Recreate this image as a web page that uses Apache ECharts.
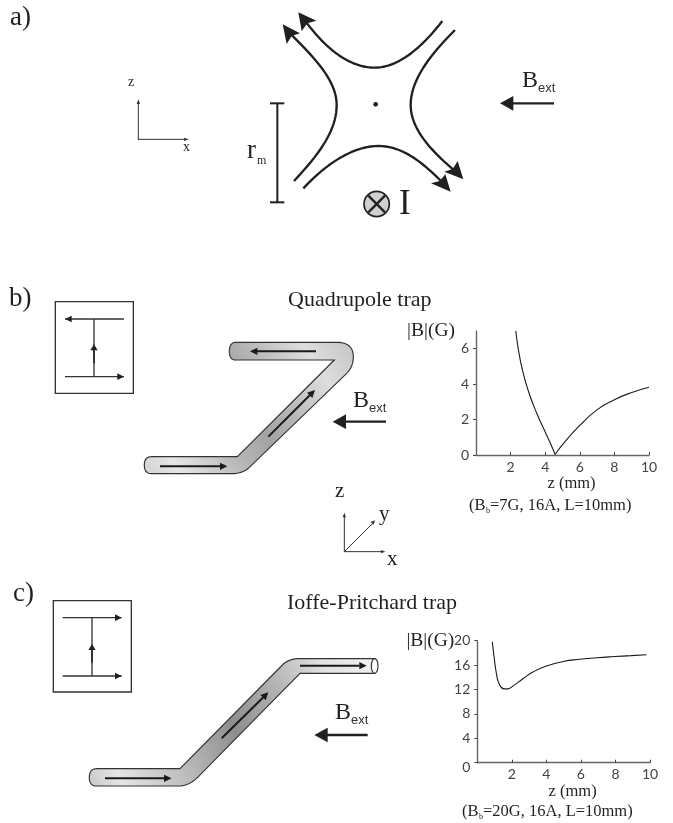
<!DOCTYPE html>
<html><head><meta charset="utf-8">
<style>html,body{margin:0;padding:0;background:#fff}#c{width:673px;height:823px}</style>
<script src="https://cdn.jsdelivr.net/npm/echarts@6/dist/echarts.min.js"></script>
</head><body><div id="c"></div>
<script>
// Data
const quadLeftZ = [2.3,2.45,2.68,3.03,3.51,4.0,4.3,4.57];
const quadLeftB = [7.0,5.95,4.82,3.6,2.36,1.3,0.66,0.03];
const quadRightZ = [4.57,5.06,5.97,6.99,8.0,8.92,10];
const quadRightB = [0.03,0.66,1.64,2.55,3.12,3.5,3.82];
const ipZ = [0.87,0.97,1.12,1.27,1.54,1.74,2.08,2.66,3.24,4.0,4.98,5.95,6.9,7.95,8.9,9.8];
const ipB = [19.8,17.4,14.4,12.9,12.1,12.1,12.6,13.8,14.9,15.85,16.6,16.95,17.2,17.4,17.55,17.7];
const xTicks = [2,4,6,8,10];
const quadYTicks = [0,2,4,6];
const ipYTicks = [0,4,8,12,16,20];

const SERIF = '"Liberation Serif","Times New Roman",serif';
const SANS = 'Lato,"Open Sans",sans-serif';
const INK = '#231f20';

function pts(d){
  const t = d.trim().split(/[\s,]+/); let i=0, out=[], cur=[0,0];
  const n=()=>parseFloat(t[i++]);
  while(i<t.length){
    const c=t[i++];
    if(c==='M'||c==='L'){cur=[n(),n()];out.push(cur);}
    else if(c==='C'){const a=[n(),n()],b=[n(),n()],e=[n(),n()],s=cur;
      for(let k=1;k<=20;k++){const u=k/20,v=1-u;out.push([v*v*v*s[0]+3*v*v*u*a[0]+3*v*u*u*b[0]+u*u*u*e[0],v*v*v*s[1]+3*v*v*u*a[1]+3*v*u*u*b[1]+u*u*u*e[1]]);}
      cur=e;}
    else if(c==='Q'){const a=[n(),n()],e=[n(),n()],s=cur;
      for(let k=1;k<=14;k++){const u=k/14,v=1-u;out.push([v*v*s[0]+2*v*u*a[0]+u*u*e[0],v*v*s[1]+2*v*u*a[1]+u*u*e[1]]);}
      cur=e;}
  }
  return out;
}
const stroke=(d,w,col)=>({type:'polyline',silent:true,shape:{points:pts(d)},style:{stroke:col||INK,lineWidth:w,fill:null,lineCap:'butt',lineJoin:'round'}});
const poly=(p,col)=>({type:'polygon',silent:true,shape:{points:p},style:{fill:col||INK,stroke:null}});
const zoomGroup=(ox,oy,children)=>({type:'group',x:ox,y:oy,scaleX:1/3,scaleY:1/3,children});
const txt=(s,x,base,size,opt)=>{opt=opt||{};return {type:'text',silent:true,style:{text:s,x:x,y:base-0.32*size,font:(size)+'px '+(opt.font||SERIF),fill:opt.fill||INK,textAlign:opt.align||'left',textVerticalAlign:'middle',verticalAlign:'middle',align:opt.align||'left'}};};
const bext=(x,base)=>[txt('B',x,base,24),txt('ext',x+16,base+4.5,13,{font:'"Liberation Sans",Arial,sans-serif',fill:'#333'})];
const bigArrow=(x2,x1,tip,y)=>[stroke(`M ${x2},${y} L ${x1},${y}`,7),poly([[tip,y],[x1+5,y-22],[x1+5,y+22]])];
const smallH=(x1,x2,y,dir,w)=>{
  return [stroke(`M ${x1},${y} L ${x2},${y}`,w||4,'#333'), dir>0?poly([[x2,y],[x2-20,y-10],[x2-20,y+10]]):poly([[x1,y],[x1+20,y-10],[x1+20,y+10]])];
};
const inset=(x0,y0,x1,y1,vx,topY,botY,topDir,tipY,l,r)=>[
  {type:'rect',silent:true,shape:{x:x0,y:y0,width:x1-x0,height:y1-y0},style:{fill:null,stroke:'#333',lineWidth:4}},
  ...smallH(l,r,topY,topDir),...smallH(l,r,botY,1),
  stroke(`M ${vx},${topY} L ${vx},${botY}`,4,'#333'),
  stroke(`M ${vx},${botY-40} L ${vx},${tipY+10}`,6,'#333'),
  poly([[vx,tipY],[vx-11,tipY+18],[vx+11,tipY+18]])
];
const inner=(x1,y1,x2,y2,tx,ty,bx1,by1,bx2,by2)=>[stroke(`M ${x1},${y1} L ${x2},${y2}`,6,'#1a1a1a'),poly([[tx,ty],[bx1,by1],[bx2,by2]],'#1a1a1a')];
const grad=(stops)=>({type:'linear',x:0,y:1,x2:1,y2:0,colorStops:stops.map(s=>({offset:s[0],color:s[1]}))});

const partA = zoomGroup(120,0,[
  stroke('M 967,63 C 900,150 830,203 765,203 C 690,203 620,150 555,62',7),
  poly([[535,37],[589,62],[562,70],[545,94]]),
  stroke('M 522,543 C 600,460 650,390 650,315 C 650,240 580,170 510,100',7),
  poly([[488,73],[540,100],[515,108],[500,132]]),
  stroke('M 550,565 C 620,490 700,438 775,438 C 850,438 910,490 968,548',7),
  poly([[992,575],[976,523],[959,543],[933,550]]),
  stroke('M 1005,90 C 930,165 872,240 872,315 C 872,385 930,450 1005,513',7),
  poly([[1030,538],[1013,483],[998,507],[973,515]]),
  {type:'circle',silent:true,shape:{cx:767,cy:313,r:7},style:{fill:INK}},
  stroke('M 472,310 L 472,607',6), stroke('M 450,310 L 493,310',6), stroke('M 450,607 L 493,607',6),
  {type:'circle',silent:true,shape:{cx:770,cy:612,r:38},style:{fill:'#cfcfcf',stroke:INK,lineWidth:5}},
  stroke('M 745,587 L 795,637',7), stroke('M 795,587 L 745,637',7),
  ...bigArrow(1302,1175,1140,310),
  stroke('M 55,420 L 55,308',3,'#333'), poly([[55,298],[50,312],[60,312]],'#333'),
  stroke('M 54,418 L 198,418',3,'#333'), poly([[206,418],[192,413],[192,423]],'#333')
]);
const partB = zoomGroup(0,260,[
  ...inset(166,125,400,400,282,177,350,-1,253,195,372),
  {type:'polygon',silent:true,shape:{points:pts('M 708,247 L 1010,247 Q 1060,247 1060,290 Q 1060,320 1040,340 L 745,625 Q 725,641 695,641 L 455,641 Q 433,641 433,615 Q 433,590 455,590 L 712,590 L 1003,300 L 708,300 Q 688,300 688,275 Q 688,247 708,247')},
    style:{stroke:'#333',lineWidth:3.5,fill:grad([[0,'#d2d2d2'],[0.13,'#e6e6e6'],[0.34,'#b9b9b9'],[0.5,'#a3a3a3'],[0.62,'#b5b5b5'],[0.82,'#dedede'],[1,'#c4c4c4']])}},
  ...inner(948,274,770,274,750,274,772,263,772,285),
  ...inner(480,619,660,619,682,619,660,608,660,630),
  ...inner(805,530,930,405,945,390,921,398,937,414),
  ...bigArrow(1158,1033,998,485)
]);
const partC = zoomGroup(0,480,[
  ...inset(160,362,394,636,276,413,588,1,492,188,365),
  stroke('M 1033,215 L 1033,110',3,'#333'), poly([[1033,98],[1028,112],[1038,112]],'#333'),
  stroke('M 1033,215 L 1145,215',3,'#333'), poly([[1156,215],[1143,210],[1143,220]],'#333'),
  stroke('M 1033,215 L 1118,130',3,'#333'), poly([[1126,121],[1120,134],[1112,126]],'#333'),
  {type:'polygon',silent:true,shape:{points:pts('M 290,866 L 540,866 L 850,552 Q 870,536 895,536 L 1125,536 L 1125,580 L 900,580 L 590,895 Q 565,918 535,918 L 290,918 Q 268,918 268,893 Q 268,866 290,866')},
    style:{stroke:'#333',lineWidth:3.5,fill:grad([[0,'#c8c8c8'],[0.1,'#e4e4e4'],[0.3,'#bcbcbc'],[0.5,'#8e8e8e'],[0.68,'#b5b5b5'],[0.84,'#e2e2e2'],[1,'#f2f2f2']])}},
  {type:'ellipse',silent:true,shape:{cx:1124,cy:558,rx:10,ry:22},style:{fill:'#fff',stroke:'#333',lineWidth:3.5}},
  ...inner(315,895,492,895,515,895,492,884,492,906),
  ...inner(665,775,790,652,805,637,781,645,797,661),
  ...inner(900,557,1078,557,1100,557,1078,546,1078,568),
  ...bigArrow(1103,978,943,765)
]);
const labels=[
  txt('a)',10,27,27), txt('b)',9,308,27), txt('c)',13,603,27),
  txt('z',128,87,14), txt('x',183,152,14),
  txt('r',247,160,27), txt('m',257,165,12),
  txt('I',399,216,35),
  ...bext(522,88), ...bext(353,408), ...bext(335,720),
  txt('Quadrupole trap',288,307.5,22), txt('Ioffe-Pritchard trap',287,610.5,22),
  txt('z',335,498,21), txt('y',379,521,21), txt('x',387,566,21),
  txt('(B',469,511,16.5), txt('b',486,513,8), txt('=7G, 16A, L=10mm)',490,511,16.5),
  txt('(B',462,817,16.5), txt('b',479,819,8), txt('=20G, 16A, L=10mm)',483,817,16.5)
];

const axisCommon=(extra)=>Object.assign({
  type:'value',
  axisLine:{show:true,onZero:false,lineStyle:{color:'#666',width:1.4}},
  splitLine:{show:false},
  axisLabel:{color:'#444',fontFamily:SANS,fontSize:14}
},extra);
const xAx=(grid)=>axisCommon({gridIndex:grid,min:0,max:10,
  axisTick:{show:true,inside:true,length:3,customValues:xTicks,lineStyle:{color:'#444',width:1}},
  axisLabel:{customValues:xTicks,color:'#444',fontFamily:SANS,fontSize:14,margin:5},
  name:'z (mm)',nameLocation:'middle',nameGap:20,nameMoveOverlap:false,
  nameTextStyle:{fontFamily:SERIF,fontSize:16.5,color:INK,padding:[0,0,0,18]}});
const yAx=(grid,max,ticks,padding)=>axisCommon({gridIndex:grid,min:0,max:max,
  axisTick:{show:true,length:3,customValues:ticks,lineStyle:{color:'#444',width:1}},
  axisLabel:{customValues:ticks,color:'#444',fontFamily:SANS,fontSize:14,margin:7,
    formatter:v=>(grid===1&&v===0)?'{z|0}':String(v),rich:{z:{fontFamily:SANS,fontSize:14,color:'#444',padding:[10,0,0,0]}}},
  name:'|B|(G)',nameLocation:'end',nameRotate:0,nameGap:0,nameMoveOverlap:false,
  nameTextStyle:{fontFamily:SERIF,fontSize:19.5,color:INK,align:'right',verticalAlign:'middle',padding:padding}});
const lineS=(i,xs,ys)=>({type:'line',xAxisIndex:i,yAxisIndex:i,data:xs.map((x,k)=>[x,ys[k]]),showSymbol:false,smooth:0.5,
  lineStyle:{color:'#1a1a1a',width:1.1},silent:true,clip:false});

const chart=echarts.init(document.getElementById('c'),null,{renderer:'canvas'});
chart.setOption({
  backgroundColor:'#fff',animation:false,
  grid:[{left:476,top:331,width:173,height:124},{left:477.3,top:640.7,width:172.7,height:122}],
  xAxis:[xAx(0),xAx(1)],
  yAxis:[yAx(0,7,quadYTicks,[6,21,0,0]),yAx(1,20,ipYTicks,[0,23,0,0])],
  series:[lineS(0,quadLeftZ,quadLeftB),lineS(0,quadRightZ,quadRightB),lineS(1,ipZ,ipB)],
  graphic:{elements:[partA,partB,partC,...labels]}
});
</script></body></html>
